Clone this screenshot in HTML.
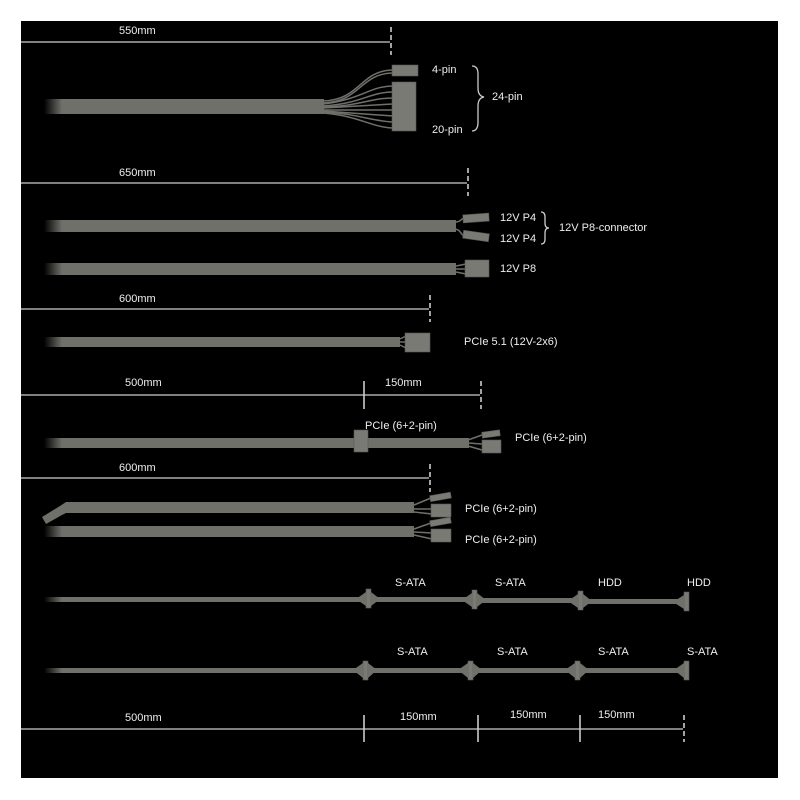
<!DOCTYPE html>
<html><head><meta charset="utf-8"><style>
html,body{margin:0;padding:0;background:#fff;width:800px;height:800px;overflow:hidden}
svg{display:block}
text{font-family:"Liberation Sans",sans-serif;font-size:11px;fill:#eee}
</style></head><body>
<svg width="800" height="800" viewBox="0 0 800 800">
<defs>
<linearGradient id="fade" gradientUnits="userSpaceOnUse" x1="44" y1="0" x2="62" y2="0">
<stop offset="0" stop-color="#70706b" stop-opacity="0"/><stop offset="1" stop-color="#70706b"/>
</linearGradient>
</defs>
<rect x="21" y="21" width="757" height="757" fill="#000"/>
<g stroke="#ccc" stroke-width="1.3" fill="none">
<line x1="21" y1="42" x2="390" y2="42"/>
<line x1="21" y1="183" x2="467" y2="183"/>
<line x1="21" y1="309" x2="429" y2="309"/>
<line x1="21" y1="395" x2="480" y2="395"/>
<line x1="21" y1="478" x2="429" y2="478"/>
<line x1="21" y1="729" x2="683" y2="729"/>
<g stroke-dasharray="5,3" stroke-width="1.6">
<line x1="391" y1="27" x2="391" y2="55"/>
<line x1="468" y1="168" x2="468" y2="196"/>
<line x1="430" y1="295" x2="430" y2="322"/>
<line x1="481" y1="381" x2="481" y2="409"/>
<line x1="430" y1="464" x2="430" y2="492"/>
<line x1="684" y1="715" x2="684" y2="742"/>
</g>
<g stroke-width="1.6">
<line x1="364" y1="381" x2="364" y2="409"/>
<line x1="364" y1="715" x2="364" y2="742"/>
<line x1="478" y1="715" x2="478" y2="742"/>
<line x1="580" y1="715" x2="580" y2="742"/>
</g>
<path d="M472 66 q6 0 6 8 v14 q0 8 6 9 q-6 1 -6 9 v16 q0 9 -6 9"/>
<path d="M541 212 q4 0 4 5 v6 q0 5 4 5 q-4 0 -4 5 v6 q0 5 -4 5"/>
</g>
<g fill="url(#fade)">
<rect x="44" y="99" width="280" height="15"/>
<rect x="44" y="220" width="412" height="12"/>
<rect x="44" y="263" width="412" height="12"/>
<rect x="44" y="337" width="356" height="10"/>
<rect x="44" y="438" width="425" height="10"/>
<rect x="44" y="526" width="370" height="11"/>
<rect x="44" y="597" width="330" height="5"/>
<rect x="44" y="668" width="330" height="5"/>
</g>
<path d="M42 517 L60 506 L66 502 H414 V513 H66 L62 515 L46 524 Z" fill="#70706b"/>
<g fill="#70706b">
<rect x="368" y="597" width="110" height="5"/>
<rect x="473" y="598" width="110" height="5"/>
<rect x="580" y="599" width="105" height="5"/>
<rect x="365" y="668" width="320" height="5"/>
</g>
<g stroke="#70706b" stroke-width="1.5" fill="none">
<path d="M323 101 C360 100 360 71 392 70"/><path d="M323 103 C360 102 360 74 392 73"/>
<path d="M323 104 C360 100 370 86 393 86"/><path d="M323 106 C360 104 370 92 393 92"/>
<path d="M323 107 C360 106 370 98 393 98"/><path d="M323 108 L393 104"/>
<path d="M323 110 L393 110"/><path d="M323 111 L393 116"/>
<path d="M323 112 C360 114 370 121 393 122"/><path d="M323 113 C360 116 370 127 393 128"/>
<path d="M455 222 C462 222 460 218 466 218"/><path d="M455 229 C462 230 460 236 466 236"/>
<path d="M456 266 L466 264"/><path d="M456 269 L466 269"/><path d="M456 272 L466 274"/>
<path d="M400 339 L406 336"/><path d="M400 342 L406 342"/><path d="M400 345 L406 348"/>
<path d="M468 440 L482 435"/><path d="M468 443 L482 444"/><path d="M468 446 L482 450"/>
<path d="M414 505 L431 498"/><path d="M414 509 L432 509"/><path d="M414 512 L432 514"/>
<path d="M414 529 L431 523"/><path d="M414 532 L432 533"/><path d="M414 535 L432 539"/>
</g>
<g fill="#7a7a75" stroke="#555" stroke-width="0.6">
<rect x="392" y="65" width="26" height="11"/>
<rect x="392" y="82" width="24" height="49"/>
<rect x="463" y="214" width="26" height="8" transform="rotate(-4 476 218)"/>
<rect x="463" y="232" width="26" height="8" transform="rotate(8 476 236)"/>
<rect x="465" y="260" width="24" height="17"/>
<rect x="405" y="333" width="25" height="19"/>
<rect x="354" y="430" width="14" height="22"/>
<rect x="482" y="431" width="18" height="6" transform="rotate(-8 491 434)"/>
<rect x="482" y="440" width="19" height="13"/>
<rect x="430" y="494" width="21" height="6" transform="rotate(-10 440 497)"/>
<rect x="431" y="504" width="20" height="13"/>
<rect x="430" y="519" width="21" height="6" transform="rotate(-10 440 522)"/>
<rect x="431" y="529" width="20" height="13"/>
<rect x="366" y="589" width="5" height="19"/>
<rect x="472" y="590" width="5" height="19"/>
<rect x="578" y="591" width="5" height="19"/>
<rect x="684" y="592" width="5" height="19"/>
<rect x="363" y="661" width="5" height="19"/>
<rect x="468" y="661" width="5" height="19"/>
<rect x="575" y="661" width="5" height="19"/>
<rect x="684" y="661" width="5" height="19"/>
</g>
<g fill="#70706b">
<path d="M356 599 L366 592 V606 Z"/><path d="M371 592 L380 599 L371 606Z"/>
<path d="M462 600 L472 593 V607 Z"/><path d="M477 593 L486 600 L477 607Z"/>
<path d="M568 601 L578 594 V608 Z"/><path d="M583 594 L592 601 L583 608Z"/>
<path d="M673 602 L684 595 V609 Z"/>
<path d="M353 670 L363 663 V678 Z"/><path d="M368 663 L377 670 L368 678Z"/>
<path d="M458 670 L468 663 V678 Z"/><path d="M473 663 L482 670 L473 678Z"/>
<path d="M565 670 L575 663 V678 Z"/><path d="M580 663 L589 670 L580 678Z"/>
<path d="M674 670 L684 663 V678 Z"/>
</g>
<text x="119" y="34">550mm</text>
<text x="432" y="73">4-pin</text>
<text x="432" y="133">20-pin</text>
<text x="492" y="100">24-pin</text>
<text x="119" y="176">650mm</text>
<text x="500" y="221">12V P4</text>
<text x="500" y="242">12V P4</text>
<text x="559" y="231">12V P8-connector</text>
<text x="500" y="272">12V P8</text>
<text x="119" y="302">600mm</text>
<text x="464" y="345">PCIe 5.1 (12V-2x6)</text>
<text x="125" y="386">500mm</text>
<text x="385" y="386">150mm</text>
<text x="365" y="429">PCIe (6+2-pin)</text>
<text x="515" y="441">PCIe (6+2-pin)</text>
<text x="119" y="471">600mm</text>
<text x="465" y="512">PCIe (6+2-pin)</text>
<text x="465" y="543">PCIe (6+2-pin)</text>
<text x="395" y="586">S-ATA</text>
<text x="495" y="586">S-ATA</text>
<text x="598" y="586">HDD</text>
<text x="687" y="586">HDD</text>
<text x="397" y="655">S-ATA</text>
<text x="497" y="655">S-ATA</text>
<text x="598" y="655">S-ATA</text>
<text x="687" y="655">S-ATA</text>
<text x="125" y="721">500mm</text>
<text x="400" y="720">150mm</text>
<text x="510" y="718">150mm</text>
<text x="598" y="718">150mm</text>
</svg>
</body></html>
